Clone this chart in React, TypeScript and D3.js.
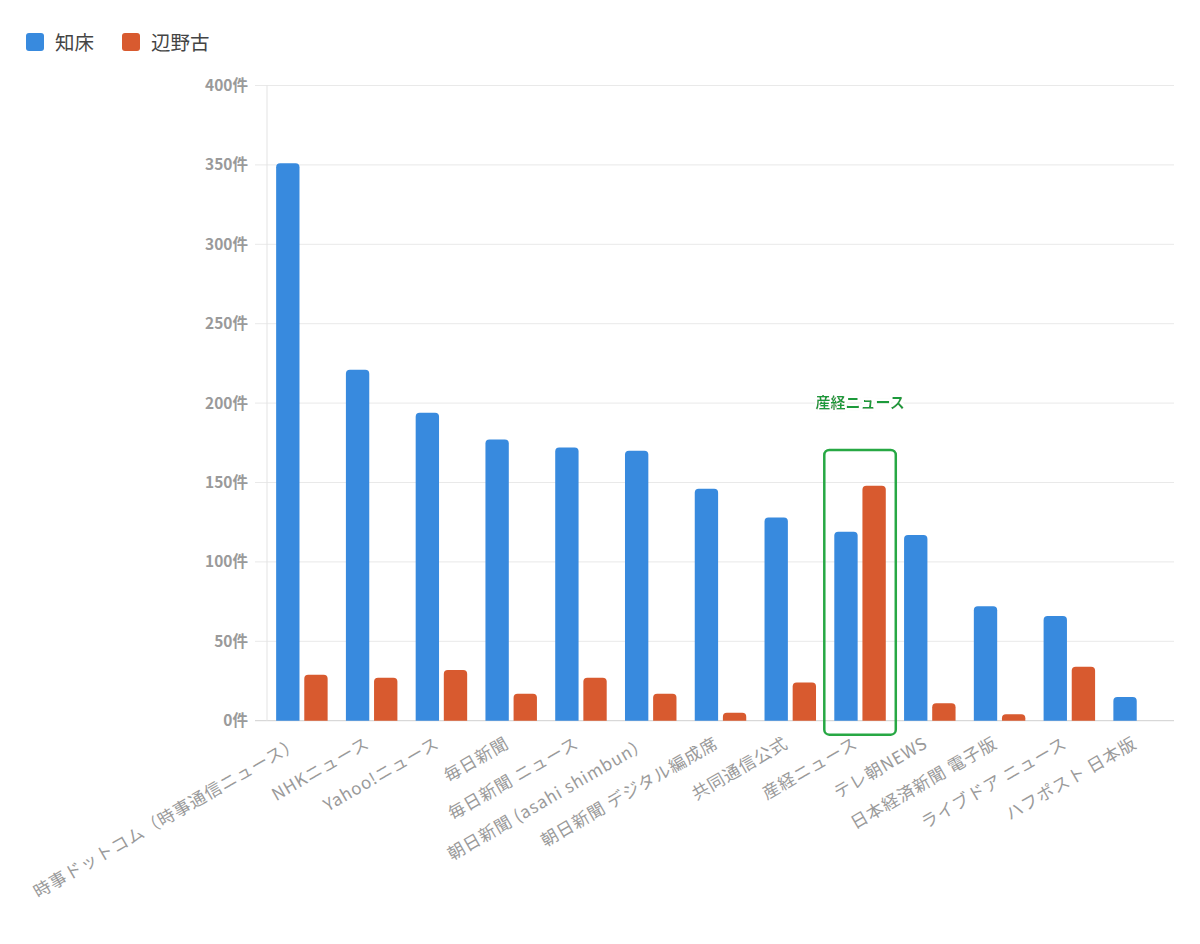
import React from "react";
import * as d3 from "d3";

const categories = [
  "時事ドットコム（時事通信ニュース）",
  "NHKニュース",
  "Yahoo!ニュース",
  "毎日新聞",
  "毎日新聞 ニュース",
  "朝日新聞 (asahi shimbun）",
  "朝日新聞 デジタル編成席",
  "共同通信公式",
  "産経ニュース",
  "テレ朝NEWS",
  "日本経済新聞 電子版",
  "ライブドア ニュース",
  "ハフポスト 日本版",
];
const shiretoko = [351, 221, 194, 177, 172, 170, 146, 128, 119, 117, 72, 66, 15];
const henoko = [29, 27, 32, 17, 27, 17, 5, 24, 148, 11, 4, 34, 0];
const seriesNames = ["知床", "辺野古"];
const seriesColors = ["#388ADE", "#D85A2F"];
const yTicks = [0, 50, 100, 150, 200, 250, 300, 350, 400];
const highlight = "産経ニュース";

const W = 1200;
const H = 944;
const left = 267;
const right = 1174;
const top = 85.5;
const bottom = 720.7;
const font = "'Noto Sans CJK JP', 'Noto Sans', sans-serif";

export default function App() {
  const x = d3.scaleBand<string>().domain(categories).range([left, right]).paddingInner(0.262).paddingOuter(0.131);
  const x1 = d3.scaleBand<number>().domain([0, 1]).range([0, x.bandwidth()]).paddingInner(0.17);
  const y = d3.scaleLinear().domain([0, 400]).range([bottom, top]);
  const series = [shiretoko, henoko];
  const hx = x(highlight)!;
  const bw = x.bandwidth();

  const barPath = (x0: number, w: number, y0: number, y1: number, r: number) => {
    const h = y1 - y0;
    const rr = Math.min(r, h, w / 2);
    return `M${x0},${y1}V${y0 + rr}Q${x0},${y0} ${x0 + rr},${y0}H${x0 + w - rr}Q${x0 + w},${y0} ${x0 + w},${y0 + rr}V${y1}Z`;
  };

  return (
    <div style={{ position: "absolute", left: 0, top: 0, width: W, height: H, background: "#fff" }}>
      <svg width={W} height={H} style={{ display: "block" }} fontFamily={font}>
        <defs>
          <filter id="glow" x="-20%" y="-50%" width="140%" height="200%">
            <feMorphology operator="dilate" radius="1.5" in="SourceAlpha" result="d" />
            <feFlood floodColor="#ffffff" />
            <feComposite in2="d" operator="in" result="w" />
            <feGaussianBlur in="SourceAlpha" stdDeviation="1.5" result="b" />
            <feFlood floodColor="#2a7a3a" floodOpacity="0.35" />
            <feComposite in2="b" operator="in" result="s" />
            <feMerge>
              <feMergeNode in="s" />
              <feMergeNode in="w" />
              <feMergeNode in="SourceGraphic" />
            </feMerge>
          </filter>
        </defs>
        {/* legend */}
        {seriesNames.map((n, i) => {
          const lx = i === 0 ? 26 : 122;
          return (
            <g key={n}>
              <rect x={lx} y={33} width={18} height={18} rx={3} fill={seriesColors[i]} />
              <text x={lx + 29} y={49.5} fontSize={19.5} fill="#444">{n}</text>
            </g>
          );
        })}
        {/* grid */}
        {yTicks.map((t) => (
          <g key={t}>
            <line x1={255} x2={right} y1={y(t)} y2={y(t)} stroke={t === 0 ? "#cfcfcf" : "#e9e9e9"} strokeWidth={1} />
            <text x={248} y={y(t) + 5.5} textAnchor="end" fontSize={15.5} fontWeight={700} fill="#9a9a9a">{`${t}件`}</text>
          </g>
        ))}
        <line x1={left} x2={left} y1={top} y2={bottom} stroke="#e3e3e3" />
        {/* bars */}
        {categories.map((c, ci) => (
          <g key={c}>
            {series.map((s, si) =>
              s[ci] > 0 ? (
                <path
                  key={si}
                  d={barPath(x(c)! + x1(si)!, x1.bandwidth(), y(s[ci]), y(0), 4)}
                  fill={seriesColors[si]}
                />
              ) : null
            )}
          </g>
        ))}
        {/* x labels */}
        {categories.map((c) => {
          const cx = x(c)! + bw / 2 - 1;
          const cy = bottom + 26;
          return (
            <text key={c} x={cx} y={cy} transform={`rotate(-30 ${cx} ${cy})`} textAnchor="end" fontSize={17} letterSpacing={0.9} fill="#9a9a9a">
              {c}
            </text>
          );
        })}
        {/* highlight */}
        <rect x={hx - 10} y={450} width={bw + 20} height={bottom + 14 - 450} rx={5} fill="none" stroke="#27a844" strokeWidth={2.5} />
        <text x={hx + bw / 2} y={408} textAnchor="middle" fontSize={15} fontWeight={700} fill="#1f9a3a" filter="url(#glow)">
          {highlight}
        </text>
      </svg>
    </div>
  );
}
